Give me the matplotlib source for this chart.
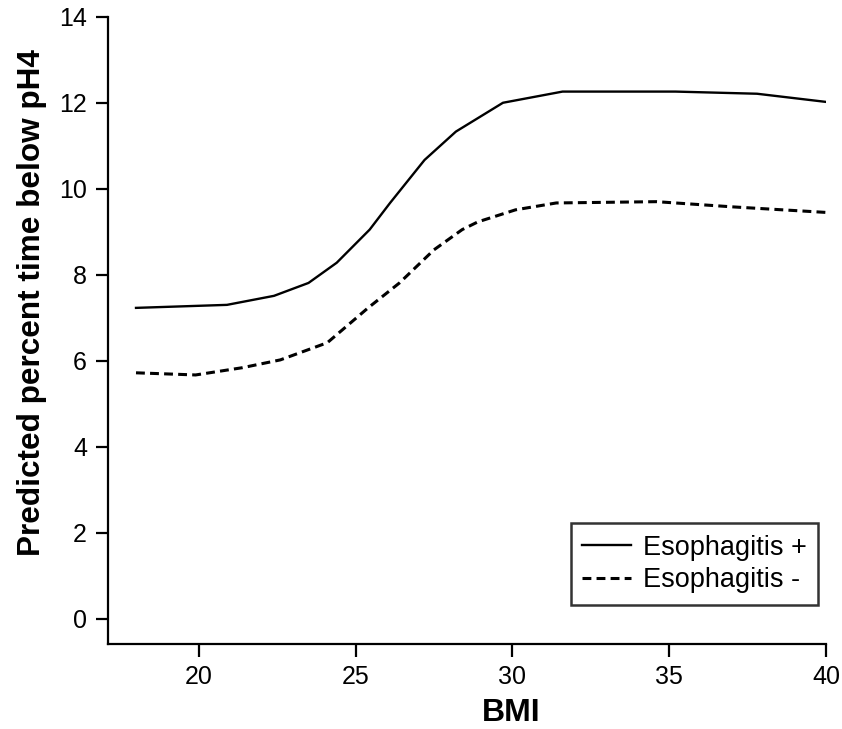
import matplotlib
matplotlib.use("Agg")
import matplotlib.pyplot as plt

plt.rcParams["font.family"] = ["Liberation Sans", "DejaVu Sans"]

# values
bmi_pos = [18.0, 20.9, 22.4, 23.5, 24.4, 25.45, 26.1, 27.2, 28.2, 29.7,
           31.6, 35.2, 37.8, 40.0]
pct_pos = [7.23, 7.30, 7.51, 7.81, 8.28, 9.05, 9.67, 10.67, 11.33, 12.0,
           12.26, 12.26, 12.21, 12.02]

bmi_neg = [18.0, 19.9, 21.4, 22.6, 24.1, 25.4, 26.4, 27.5, 28.4, 28.9,
           30.1, 31.4, 34.6, 37.0, 40.0]
pct_neg = [5.72, 5.67, 5.84, 6.02, 6.42, 7.23, 7.81, 8.58, 9.05, 9.23,
           9.51, 9.67, 9.70, 9.58, 9.45]

xticks = [20, 25, 30, 35, 40]
yticks = [0, 2, 4, 6, 8, 10, 12, 14]

fig = plt.figure(figsize=(8.42, 7.29), dpi=100)
ax = fig.add_axes([0.128, 0.117, 0.853, 0.860])

ax.plot(bmi_pos, pct_pos, color="black", lw=1.7, label="Esophagitis +")
ax.plot(bmi_neg, pct_neg, color="black", lw=2.2, ls=(0, (2.9, 1.7)),
        label="Esophagitis -")

ax.set_xlim(17.1, 40)
ax.set_ylim(-0.58, 14)
ax.set_xticks(xticks)
ax.set_yticks(yticks)
for s in ("top", "right"):
    ax.spines[s].set_visible(False)
for s in ("left", "bottom"):
    ax.spines[s].set_linewidth(1.6)
ax.tick_params(direction="out", length=9, width=1.6, labelsize=18, pad=6)

ax.set_xlabel("BMI", fontsize=23, fontweight="bold")
ax.xaxis.set_label_coords(0.561, -0.087)
ax.set_ylabel("Predicted percent time below pH4", fontsize=22.7,
              fontweight="bold")
ax.yaxis.set_label_coords(-0.085, 0.544)

leg = ax.legend(loc="lower right", bbox_to_anchor=(0.989, 0.062),
                fontsize=19.5, frameon=True, fancybox=False,
                handlelength=1.8, handletextpad=0.45, borderpad=0.42,
                labelspacing=0.25, borderaxespad=0)
leg.get_frame().set_edgecolor("black")
leg.get_frame().set_linewidth(1.8)

fig.savefig("out.png", dpi=100)
